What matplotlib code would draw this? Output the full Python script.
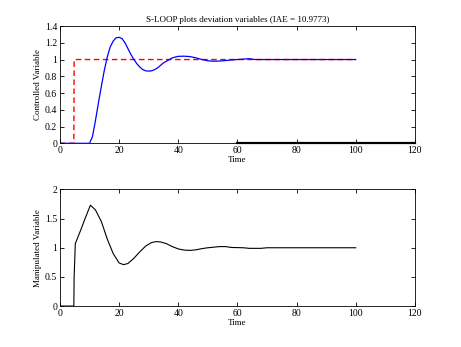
import matplotlib
matplotlib.use('Agg')
import matplotlib.pyplot as plt
import numpy as np

plt.rcParams['font.family'] = ['Liberation Serif', 'DejaVu Serif']

# controlled variable (blue)
cvTime = [0, 10, 11, 12, 13, 14, 15, 16, 17, 18, 19, 20, 21, 22, 23, 24, 25, 26, 27, 28,
          29, 30, 31, 32, 33, 34, 35, 36, 37, 38, 39, 40, 42, 44, 46, 48, 50, 52, 54, 56,
          58, 60, 62, 64, 66, 70, 80, 90, 100]
cvValue = [0, 0, 0.08, 0.27, 0.48, 0.68, 0.87, 1.03, 1.15, 1.22, 1.26, 1.265, 1.25, 1.20,
           1.13, 1.06, 1.0, 0.95, 0.91, 0.88, 0.865, 0.862, 0.865, 0.88, 0.90, 0.93, 0.96,
           0.98, 1.0, 1.02, 1.03, 1.038, 1.04, 1.035, 1.02, 1.0, 0.985, 0.98, 0.982, 0.988,
           0.995, 1.0, 1.005, 1.01, 1.0, 1.0, 1.0, 1.0, 1.0]

# setpoint (red dashed)
spTime = [0, 4.7, 4.8, 100]
spValue = [0, 0, 1, 1]

# disturbance line along the bottom
distTime = [60, 120]
distValue = [0, 0]

# manipulated variable (black)
mvTime = [0, 4.7, 4.8, 5.2, 7, 8.5, 10.3, 12, 14, 16, 18, 20, 21.5, 23, 25, 27, 29, 31,
          32.5, 34, 36, 38, 40, 42, 44, 46, 48, 50, 52, 54, 56, 58, 62, 64, 68, 70, 80, 90, 100]
mvValue = [0, 0, 0.5, 1.07, 1.3, 1.5, 1.73, 1.65, 1.45, 1.15, 0.9, 0.74, 0.71, 0.73, 0.82,
           0.93, 1.03, 1.09, 1.105, 1.1, 1.07, 1.02, 0.98, 0.96, 0.955, 0.965, 0.985, 1.0,
           1.01, 1.02, 1.02, 1.005, 1.0, 0.99, 0.99, 1.0, 1.0, 1.0, 1.0]

xTicks = [0, 20, 40, 60, 80, 100, 120]
topYTicks = [0, 0.2, 0.4, 0.6, 0.8, 1, 1.2, 1.4]
topYLabels = ['0', '0.2', '0.4', '0.6', '0.8', '1', '1.2', '1.4']
botYTicks = [0, 0.5, 1, 1.5, 2]
botYLabels = ['0', '0.5', '1', '1.5', '2']

fig = plt.figure(figsize=(4.61, 3.47), dpi=100)

def styleAxes(ax):
    ax.tick_params(direction='in', top=True, right=True, labelsize=7, length=3, width=0.6, pad=2)
    for s in ax.spines.values():
        s.set_linewidth(0.6)
    ax.set_xlim(0, 120)
    ax.set_xticks(xTicks)
    ax.set_xticklabels([str(t) for t in xTicks])

# top: controlled variable
ax1 = fig.add_axes([0.130, 0.587, 0.770, 0.338])
ax1.plot(spTime, spValue, color='red', linestyle='--', linewidth=1.0, dashes=(4, 2.5))
ax1.plot(cvTime, cvValue, color='blue', linewidth=0.9)
ax1.plot(distTime, distValue, color='black', linewidth=1.6, clip_on=False)
ax1.set_ylim(0, 1.4)
ax1.set_yticks(topYTicks)
ax1.set_yticklabels(topYLabels)
styleAxes(ax1)
ax1.set_title('S-LOOP plots deviation variables (IAE = 10.9773)', fontsize=6.5, pad=3)
ax1.set_xlabel('Time', fontsize=6.5, labelpad=1)
ax1.set_ylabel('Controlled Variable', fontsize=6.5, labelpad=2)

# bottom: manipulated variable
ax2 = fig.add_axes([0.130, 0.118, 0.770, 0.336])
ax2.plot(mvTime, mvValue, color='black', linewidth=0.8)
ax2.set_ylim(0, 2)
ax2.set_yticks(botYTicks)
ax2.set_yticklabels(botYLabels)
styleAxes(ax2)
ax2.set_xlabel('Time', fontsize=6.5, labelpad=1)
ax2.set_ylabel('Manipulated Variable', fontsize=6.5, labelpad=2)

fig.savefig('out.png', dpi=100)
